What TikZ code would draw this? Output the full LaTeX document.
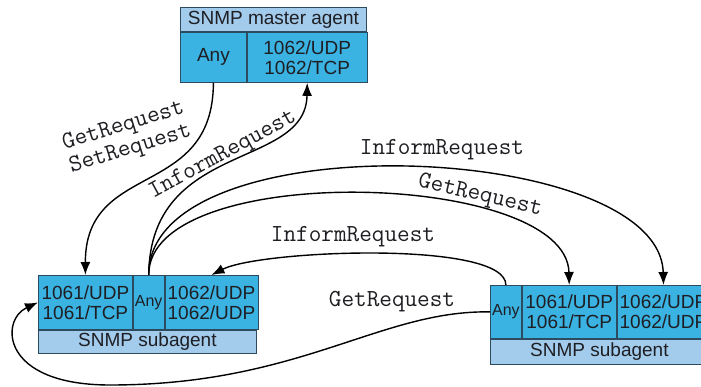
\documentclass[tikz,border=0pt]{standalone}
\usepackage{fontspec}
\newfontfamily\boxfont{Liberation Sans}
\definecolor{snmpcell}{RGB}{58,178,226}
\definecolor{snmphdr}{RGB}{163,203,236}
\definecolor{snmpedge}{RGB}{45,75,95}
\definecolor{snmptext}{RGB}{30,30,35}
\usetikzlibrary{positioning,arrows.meta}

\begin{document}
\begin{tikzpicture}[x=1pt,y=-1pt,node distance=0pt,
  >={Latex[length=13pt,width=10pt]},
  cell/.style={fill=snmpcell,draw=snmpedge,line width=0.8pt,inner sep=0pt,align=center,
    text=snmptext,font=\boxfont\fontsize{19}{20}\selectfont},
  hdr/.style={cell,fill=snmphdr},
  narrow/.style={cell,minimum width=31pt,font=\boxfont\fontsize{16}{18}\selectfont},
  msg/.style={align=center,inner sep=0pt,text=snmptext,font=\ttfamily\fontsize{24.5}{24}\selectfont},
  flow/.style={line width=1.4pt}]
  \useasboundingbox (0,0) rectangle (701,387);
  \clip (0,0) rectangle (701,387);

  % master agent
  \node [cell, minimum width=66pt, minimum height=50pt, anchor=north west] (mAny) at (180,32) {Any};
  \node [cell, minimum width=120pt, minimum height=50pt, right=of mAny] (mPort) {1062/UDP\\1062/TCP};
  \node [hdr, minimum width=186pt, minimum height=24pt, anchor=south west] (mHdr) at (mAny.north west) {SNMP master agent};

  % left subagent
  \node [cell, minimum width=94pt, minimum height=54pt, anchor=north west] (lPort) at (38,275) {1061/UDP\\1061/TCP};
  \node [narrow, minimum height=54pt, right=of lPort] (lAny) {Any};
  \node [cell, minimum width=93pt, minimum height=54pt, right=of lAny] (lTrap) {1062/UDP\\1062/UDP};
  \node [hdr, minimum width=218pt, minimum height=23pt, anchor=north west] (lHdr) at (lPort.south west) {SNMP subagent};

  % right subagent
  \node [narrow, minimum height=53pt, anchor=north west] (rAny) at (490,285) {Any};
  \node [cell, minimum width=94pt, minimum height=53pt, right=of rAny] (rPort) {1061/UDP\\1061/TCP};
  \node [cell, minimum width=93pt, minimum height=53pt, right=of rPort] (rTrap) {1062/UDP\\1062/UDP};
  \node [hdr, minimum width=218pt, minimum height=25pt, anchor=north west] (rHdr) at (rAny.south west) {SNMP subagent};

  % messages
  \draw [->, flow] (mAny.south) .. controls (213,200) and (85,160) .. (lPort.north);
  \draw [->, flow] (lAny.north) .. controls (150,140) and (306,170) .. (mPort.south);
  \draw [->, flow] (lAny.north) .. controls (148,120) and (660,140) .. (rTrap.north);
  \draw [->, flow] (lAny.north) .. controls (148,160) and (567,170) .. (rPort.north);
  \draw [->, flow] (rAny.north) .. controls (506,240) and (260,250) .. (lTrap.north);
  \coordinate (loop) at (110,385);
  \draw [->, flow] (rAny.west) .. controls (380,310) and (300,385) .. (loop)
    .. controls (0,385) and (0,320) .. (lPort.west);

  \node [msg, rotate=17] (getset) at (127,138) {GetRequest\\SetRequest};
  \node [msg, rotate=28.6] (informUp) at (223,155) {InformRequest};
  \node [msg] (informFar) at (442,150) {InformRequest};
  \node [msg, rotate=-13] (getFar) at (480,196) {GetRequest};
  \node [msg] (informBack) at (353,237) {InformRequest};
  \node [msg] (getBack) at (392,302) {GetRequest};
\end{tikzpicture}
\end{document}
